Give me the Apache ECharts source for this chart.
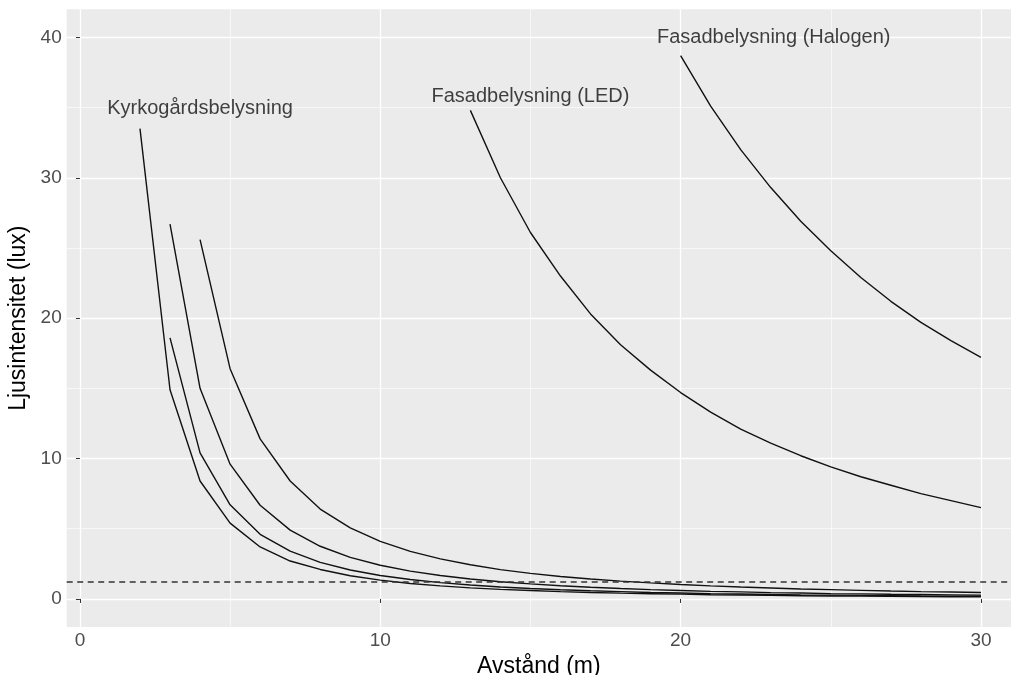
<!DOCTYPE html>
<html><head><meta charset="utf-8">
<script src="https://cdn.jsdelivr.net/npm/echarts@6/dist/echarts.min.js"></script>
<style>html,body{margin:0;padding:0;background:#fff}#c{width:1017px;height:675px}</style>
</head><body><div id="c"></div>
<script>
// Distance (m) along the x axis
const distance = [0,1,2,3,4,5,6,7,8,9,10,11,12,13,14,15,16,17,18,19,20,21,22,23,24,25,26,27,28,29,30];

// Kyrkogårdsbelysning – four luminaires (lux), starting at the given distance
const kyrko1Start = 2;
const kyrko1Lux = [33.5,14.9,8.4,5.4,3.7,2.7,2.1,1.65,1.34,1.1,0.93,0.79,0.68,0.6,0.52,0.46,0.41,0.37,0.34,0.3,0.28,0.25,0.23,0.21,0.2,0.18,0.17,0.16,0.15];
const kyrko2Start = 3;
const kyrko2Lux = [26.7,15.0,9.6,6.67,4.9,3.75,2.96,2.4,1.98,1.67,1.42,1.22,1.07,0.94,0.83,0.74,0.66,0.6,0.54,0.5,0.45,0.42,0.38,0.36,0.33,0.31,0.29,0.27];
const kyrko3Start = 3;
const kyrko3Lux = [18.6,10.4,6.7,4.6,3.4,2.6,2.06,1.67,1.38,1.16,0.99,0.85,0.74,0.65,0.58,0.52,0.46,0.42,0.38,0.35,0.32,0.29,0.27,0.25,0.23,0.21,0.2,0.19];
const kyrko4Start = 4;
const kyrko4Lux = [25.6,16.4,11.4,8.4,6.4,5.06,4.1,3.39,2.85,2.43,2.09,1.82,1.6,1.42,1.27,1.14,1.03,0.93,0.85,0.78,0.71,0.66,0.61,0.56,0.52,0.49,0.46];

// Fasadbelysning
const ledStart = 13;
const ledLux = [34.8,30.0,26.1,23.0,20.3,18.1,16.3,14.7,13.3,12.1,11.1,10.2,9.4,8.7,8.1,7.5,7.0,6.5];
const halogenStart = 20;
const halogenLux = [38.7,35.1,32.0,29.3,26.9,24.8,22.9,21.2,19.7,18.4,17.2];

// Threshold (dashed line)
const thresholdLux = 1.2;

// Text labels
const labelNames = ['Kyrkogårdsbelysning','Fasadbelysning (LED)','Fasadbelysning (Halogen)'];
const labelX = [4.0, 15.0, 23.1];
const labelY = [34.9, 35.8, 40.0];

// Ticks
const xMajorTicks = [0,10,20,30];
const xMinorTicks = [5,15,25];
const yMajorTicks = [0,10,20,30,40];
const yMinorTicks = [5,15,25,35];

function pairs(start, lux){
  const i0 = distance.indexOf(start);
  return lux.map((v,i)=>[distance[i0+i], v]);
}

const curves = [
  pairs(kyrko1Start,kyrko1Lux),
  pairs(kyrko2Start,kyrko2Lux),
  pairs(kyrko3Start,kyrko3Lux),
  pairs(kyrko4Start,kyrko4Lux),
  pairs(ledStart,ledLux),
  pairs(halogenStart,halogenLux)
];

const FONT = 'Liberation Sans, Arial, sans-serif';
const chart = echarts.init(document.getElementById('c'), null, {renderer:'canvas'});

const lineSeries = curves.map((d,i)=>({
  type:'line', data:d, symbol:'none', silent:true, animation:false, z:3,
  lineStyle:{color:'#111', width:1.4},
  xAxisIndex:0, yAxisIndex:0
}));

lineSeries[0].markLine = {
  silent:true, symbol:['none','none'], animation:false,
  label:{show:false},
  lineStyle:{type:[6,4.5], color:'#333', width:1.6},
  data:[{yAxis: thresholdLux}]
};

const labelSeries = {
  type:'scatter', symbolSize:0, silent:true, animation:false, z:4,
  data: labelNames.map((n,i)=>({name:n, value:[labelX[i], labelY[i]]})),
  label:{show:true, position:'inside', formatter:p=>p.name, color:'#111', fontSize:20, fontFamily:FONT}
};

const xBase = {type:'value', min:-0.44, max:31.0};
const yBase = {type:'value', min:-2, max:42};

chart.setOption({
  animation:false,
  backgroundColor:'#fff',
  grid:{left:66.7, top:9.3, right:6, bottom:48, show:true, backgroundColor:'#EBEBEB', borderWidth:0,
        containLabel:false, outerBoundsMode:'none'},
  xAxis:[
    Object.assign({}, xBase, {
      position:'bottom',
      axisLine:{show:false},
      axisTick:{show:true, length:4, lineStyle:{color:'#333', width:1}, customValues:xMajorTicks},
      axisLabel:{customValues:xMajorTicks, color:'#4D4D4D', fontSize:19, margin:4, fontFamily:FONT},
      splitLine:{show:true, lineStyle:{color:'#fff', width:1.3}},
      name:'Avstånd (m)', nameLocation:'middle', nameGap:25,
      nameTextStyle:{fontSize:23, color:'#000', fontFamily:FONT}
    }),
    Object.assign({}, xBase, {
      position:'top', z:0,
      axisLine:{show:false},
      axisTick:{show:false, customValues:xMinorTicks},
      axisLabel:{show:false, customValues:xMinorTicks},
      splitLine:{show:true, lineStyle:{color:'#fff', width:0.6}}
    })
  ],
  yAxis:[
    Object.assign({}, yBase, {
      position:'left',
      axisLine:{show:false},
      axisTick:{show:true, length:4, lineStyle:{color:'#333', width:1}, customValues:yMajorTicks},
      axisLabel:{customValues:yMajorTicks, color:'#4D4D4D', fontSize:19, margin:5, fontFamily:FONT},
      splitLine:{show:true, lineStyle:{color:'#fff', width:1.3}},
      name:'Ljusintensitet (lux)', nameLocation:'middle', nameGap:28,
      nameTextStyle:{fontSize:23, color:'#000', fontFamily:FONT}
    }),
    Object.assign({}, yBase, {
      position:'right', z:0,
      axisLine:{show:false},
      axisTick:{show:false, customValues:yMinorTicks},
      axisLabel:{show:false, customValues:yMinorTicks},
      splitLine:{show:true, lineStyle:{color:'#fff', width:0.6}}
    })
  ],
  series: lineSeries.concat([labelSeries])
});
</script>
</body></html>
